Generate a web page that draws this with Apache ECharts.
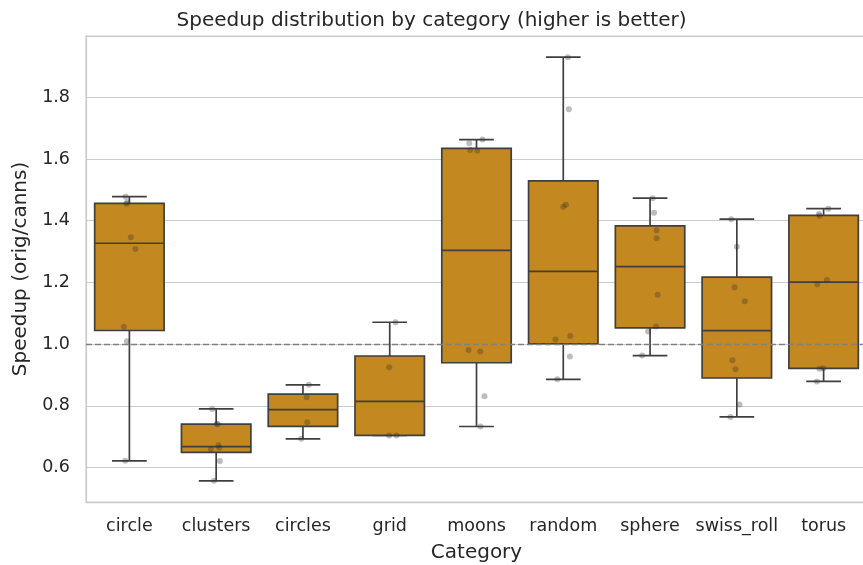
<!DOCTYPE html>
<html><head><meta charset="utf-8">
<script src="https://cdn.jsdelivr.net/npm/echarts@6/dist/echarts.min.js"></script>
<style>html,body{margin:0;padding:0;background:#fff}#c{width:863px;height:565px}</style>
</head><body><div id="c"></div>
<script>
// ---- data ----
const categories = ['circle','clusters','circles','grid','moons','random','sphere','swiss_roll','torus'];
const speedup_circle     = [1.478, 1.455, 1.460, 1.346, 1.308, 1.056, 1.009, 0.622];
const speedup_clusters   = [0.790, 0.741, 0.741, 0.672, 0.664, 0.659, 0.621, 0.557];
const speedup_circles    = [0.868, 0.828, 0.747, 0.693];
const speedup_grid       = [1.071, 0.925, 0.704, 0.704];
const speedup_moons      = [1.663, 1.651, 1.629, 1.627, 0.981, 0.976, 0.831, 0.733];
const speedup_random     = [1.930, 1.761, 1.452, 1.445, 1.026, 1.015, 0.960, 0.886];
const speedup_sphere     = [1.473, 1.426, 1.369, 1.343, 1.160, 1.057, 1.041, 0.963];
const speedup_swiss_roll = [1.405, 1.316, 1.184, 1.139, 0.948, 0.919, 0.804, 0.764];
const speedup_torus      = [1.439, 1.422, 1.416, 1.208, 1.194, 0.922, 0.920, 0.879];
// horizontal jitter of the strip points (category units)
const jitter_circle     = [-0.045, -0.033, -0.025, 0.017, 0.070, -0.063, -0.029, -0.048];
const jitter_clusters   = [-0.046, 0.008, 0.017, 0.026, 0.035, -0.061, 0.043, -0.026];
const jitter_circles    = [0.069, 0.043, 0.050, -0.020];
const jitter_grid       = [0.068, -0.006, -0.006, 0.079];
const jitter_moons      = [0.069, -0.084, -0.073, 0.008, -0.092, 0.043, 0.092, 0.046];
const jitter_random     = [0.053, 0.064, 0.030, 0.000, 0.081, -0.089, 0.076, -0.069];
const jitter_sphere     = [0.030, 0.046, 0.076, 0.076, 0.088, 0.069, -0.023, -0.092];
const jitter_swiss_roll = [-0.064, 0.000, -0.026, 0.092, -0.050, -0.015, 0.031, -0.073];
const jitter_torus      = [0.054, -0.054, -0.046, 0.038, -0.073, -0.003, -0.046, -0.077];
const yTicks = [0.6, 0.8, 1.0, 1.2, 1.4, 1.6, 1.8];
const refLine = 1.0;
const yMin = 0.4884, yMax = 1.9986;

const speedups = [speedup_circle, speedup_clusters, speedup_circles, speedup_grid, speedup_moons,
                  speedup_random, speedup_sphere, speedup_swiss_roll, speedup_torus];
const jitters = [jitter_circle, jitter_clusters, jitter_circles, jitter_grid, jitter_moons,
                 jitter_random, jitter_sphere, jitter_swiss_roll, jitter_torus];

function quantile(sorted, p) {
  const pos = (sorted.length - 1) * p, lo = Math.floor(pos), hi = Math.ceil(pos);
  return sorted[lo] + (sorted[hi] - sorted[lo]) * (pos - lo);
}
const boxData = speedups.map((arr, i) => {
  const s = arr.slice().sort((a, b) => a - b);
  const q1 = quantile(s, 0.25), med = quantile(s, 0.5), q3 = quantile(s, 0.75);
  const iqr = q3 - q1;
  const lo = Math.min(...s.filter(v => v >= q1 - 1.5 * iqr));
  const hi = Math.max(...s.filter(v => v <= q3 + 1.5 * iqr));
  return [i, lo, q1, med, q3, hi];
});
const pointData = [];
speedups.forEach((arr, i) => arr.forEach((v, k) => pointData.push([i + jitters[i][k], v])));

const FONT = 'DejaVu Sans';
const TXT = '#262626';
const BOX = '#C3881F';
const EDGE = '#3f3f3f';

const chart = echarts.init(document.getElementById('c'), null, {renderer: 'canvas'});
chart.setOption({
  animation: false,
  backgroundColor: '#ffffff',
  title: {
    text: 'Speedup distribution by category (higher is better)',
    left: 'center', top: 6,
    textStyle: {fontFamily: FONT, fontSize: 20, fontWeight: 'normal', color: TXT}
  },
  grid: {left: 86, top: 36, width: 781, height: 466, outerBoundsMode: 'none', containLabel: false,
         show: true, borderColor: '#cccccc', borderWidth: 1.25, backgroundColor: 'transparent'},
  xAxis: [{
    type: 'category', data: categories, boundaryGap: true,
    axisLine: {show: true, onZero: false, lineStyle: {color: '#cccccc', width: 1.25}},
    axisTick: {show: false},
    splitLine: {show: false},
    axisLabel: {fontFamily: FONT, fontSize: 17.5, color: TXT, margin: 15, interval: 0},
    name: 'Category', nameLocation: 'middle', nameGap: 41,
    nameTextStyle: {fontFamily: FONT, fontSize: 20, color: TXT}
  }, {
    type: 'value', min: -0.5, max: 8.5, show: false,
    axisLine: {show: false, onZero: false}, splitLine: {show: false}
  }],
  yAxis: {
    type: 'value', min: yMin, max: yMax, splitNumber: 7,
    axisLine: {show: true, onZero: false, lineStyle: {color: '#cccccc', width: 1.25}},
    axisTick: {show: false},
    splitLine: {show: true, lineStyle: {color: '#cccccc', width: 1}},
    axisLabel: {
      fontFamily: FONT, fontSize: 17.5, color: TXT, margin: 16,
      showMinLabel: false, showMaxLabel: false,
      formatter: v => yTicks.some(t => Math.abs(t - v) < 1e-6) ? v.toFixed(1) : ''
    },
    name: 'Speedup (orig/canns)', nameLocation: 'middle', nameGap: 53, nameRotate: 90,
    nameTextStyle: {fontFamily: FONT, fontSize: 20, color: TXT}
  },
  series: [{
    type: 'custom', xAxisIndex: 1, z: 2, data: boxData,
    renderItem: function (params, api) {
      const i = api.value(0);
      const lo = api.coord([i, api.value(1)]);
      const q1 = api.coord([i, api.value(2)]);
      const md = api.coord([i, api.value(3)]);
      const q3 = api.coord([i, api.value(4)]);
      const hi = api.coord([i, api.value(5)]);
      const bw = api.size([0.8, 0])[0];
      const x = lo[0];
      const ls = {stroke: EDGE, lineWidth: 1.7, fill: null};
      return {type: 'group', children: [
        {type: 'line', shape: {x1: x, y1: q3[1], x2: x, y2: hi[1]}, style: ls},
        {type: 'line', shape: {x1: x, y1: q1[1], x2: x, y2: lo[1]}, style: ls},
        {type: 'line', shape: {x1: x - bw / 4, y1: hi[1], x2: x + bw / 4, y2: hi[1]}, style: ls},
        {type: 'line', shape: {x1: x - bw / 4, y1: lo[1], x2: x + bw / 4, y2: lo[1]}, style: ls},
        {type: 'rect', shape: {x: x - bw / 2, y: q3[1], width: bw, height: q1[1] - q3[1]},
          style: {fill: BOX, stroke: EDGE, lineWidth: 1.7}},
        {type: 'line', shape: {x1: x - bw / 2, y1: md[1], x2: x + bw / 2, y2: md[1]}, style: ls}
      ]};
    }
  }, {
    type: 'scatter', xAxisIndex: 1, z: 3, data: [], silent: true,
    markLine: {
      silent: true, symbol: 'none', label: {show: false},
      lineStyle: {color: '#808080', type: [6, 3], width: 1.3},
      data: [{yAxis: refLine}]
    }
  }, {
    type: 'scatter', xAxisIndex: 1, z: 4, data: pointData, symbolSize: 6,
    itemStyle: {color: 'rgba(51,51,51,0.4)', borderWidth: 0}
  }]
});
</script>
</body></html>
